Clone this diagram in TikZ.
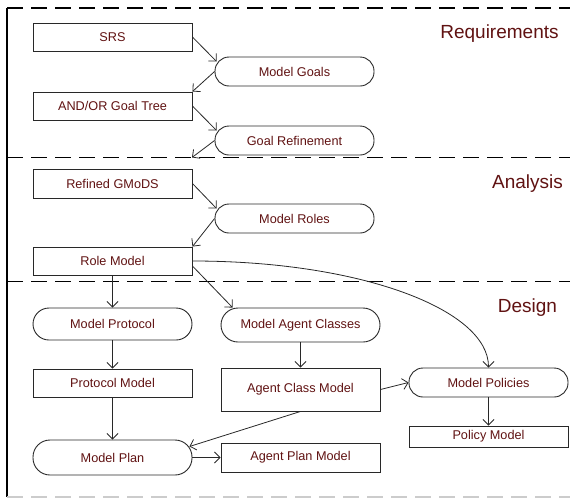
\documentclass[tikz,border=0pt]{standalone}
\usepackage{fontspec}
\setmainfont{Liberation Sans}
\usetikzlibrary{arrows.meta}
\definecolor{txt}{RGB}{96,18,18}
\definecolor{edge}{RGB}{40,40,40}
\tikzset{
  box/.style={draw=edge, line width=0.9pt, minimum width=159pt, minimum height=28pt, inner sep=0pt,
    text=txt, font=\fontsize{12.7}{14}\selectfont},
  act/.style={box, rounded corners=14pt},
  flow/.style={draw=edge, line width=0.8pt, -{Straight Barb[length=5.5pt,width=11pt]}},
  sep/.style={line width=1.8pt, dash pattern=on 16pt off 8pt},
  phase/.style={text=txt, font=\fontsize{19}{22}\selectfont},
}
\begin{document}
\begin{tikzpicture}[x=1pt,y=-1pt]
\useasboundingbox (0,0) rectangle (570,498);
% frame
\draw[line width=1.8pt] (7,8) -- (7,497);
\draw[sep] (7,8) -- (572,8);
\draw[sep] (7,157.5) -- (572,157.5);
\draw[sep] (7,281.5) -- (572,281.5);
\draw[line width=1.5pt, gray!40, dash pattern=on 16pt off 8pt] (7,497) -- (572,497);
% phase labels
\node[phase] (lreq) at (499.5,34) {Requirements};
\node[phase] (lana) at (527.5,184) {Analysis};
\node[phase] (ldes) at (527.5,308) {Design};
% nodes
\node[box] (srs) at (112.5,37) {SRS};
\node[act, minimum height=29pt] (mg) at (294.5,71.5) {Model Goals};
\node[box] (agt) at (112.5,106) {AND/OR Goal Tree};
\node[act, minimum height=29pt] (gr) at (294.5,140.5) {Goal Refinement};
\coordinate (grend) at (192,157.5);
\node[box, minimum height=29pt] (rg) at (112.5,183.5) {Refined GMoDS};
\node[act, minimum height=29pt] (mr) at (294.5,218.5) {Model Roles};
\node[box] (rm) at (112.5,261) {Role Model};
\node[act, minimum height=32pt, rounded corners=16pt] (mpr) at (112.5,324) {Model Protocol};
\node[act, minimum height=34pt, rounded corners=17pt] (mac) at (300.5,325) {Model Agent Classes};
\node[box] (pm) at (112.5,383) {Protocol Model};
\node[box, minimum height=43pt] (acm) at (300.5,389.5) {Agent Class Model};
\node[act, minimum height=29pt] (mpo) at (488.5,382.5) {Model Policies};
\node[box, minimum height=21pt] (pom) at (488.5,436.5) {Policy Model};
\node[act, minimum height=35pt, rounded corners=17pt] (mpl) at (112.5,457.5) {Model Plan};
\node[box, minimum height=29pt] (apm) at (300.5,457.5) {Agent Plan Model};
% connectors
\draw[flow] (srs.east) -- ([xshift=2pt,yshift=10pt]mg.west);
\draw[flow] (mg.west) -- (agt.north east);
\draw[flow] (agt.east) -- ([xshift=2pt,yshift=10pt]gr.west);
\draw[flow] (gr.west) -- (grend);
\draw[flow] (rg.east) -- ([xshift=2pt,yshift=10pt]mr.west);
\draw[flow] (mr.west) -- (rm.north east);
\draw[flow] (rm.south) -- (mpr.north);
\draw[flow] ([yshift=-5pt]rm.east) -- ([xshift=12pt]mac.north west);
\draw[flow] (rm.east) .. controls +(168,0) and +(0,-58) .. (mpo.north);
\draw[flow] (mpr.south) -- (pm.north);
\draw[flow] (pm.south) -- (mpl.north);
\draw[flow] (mac.south) -- (acm.north);
\draw[flow] (acm.east) -- (mpo.west);
\draw[flow] (acm.south) -- ([xshift=-3pt,yshift=11pt]mpl.east);
\draw[flow] (mpl.east) -- (apm.west);
\draw[flow] (mpo.south) -- (pom.north);
\end{tikzpicture}
\end{document}
